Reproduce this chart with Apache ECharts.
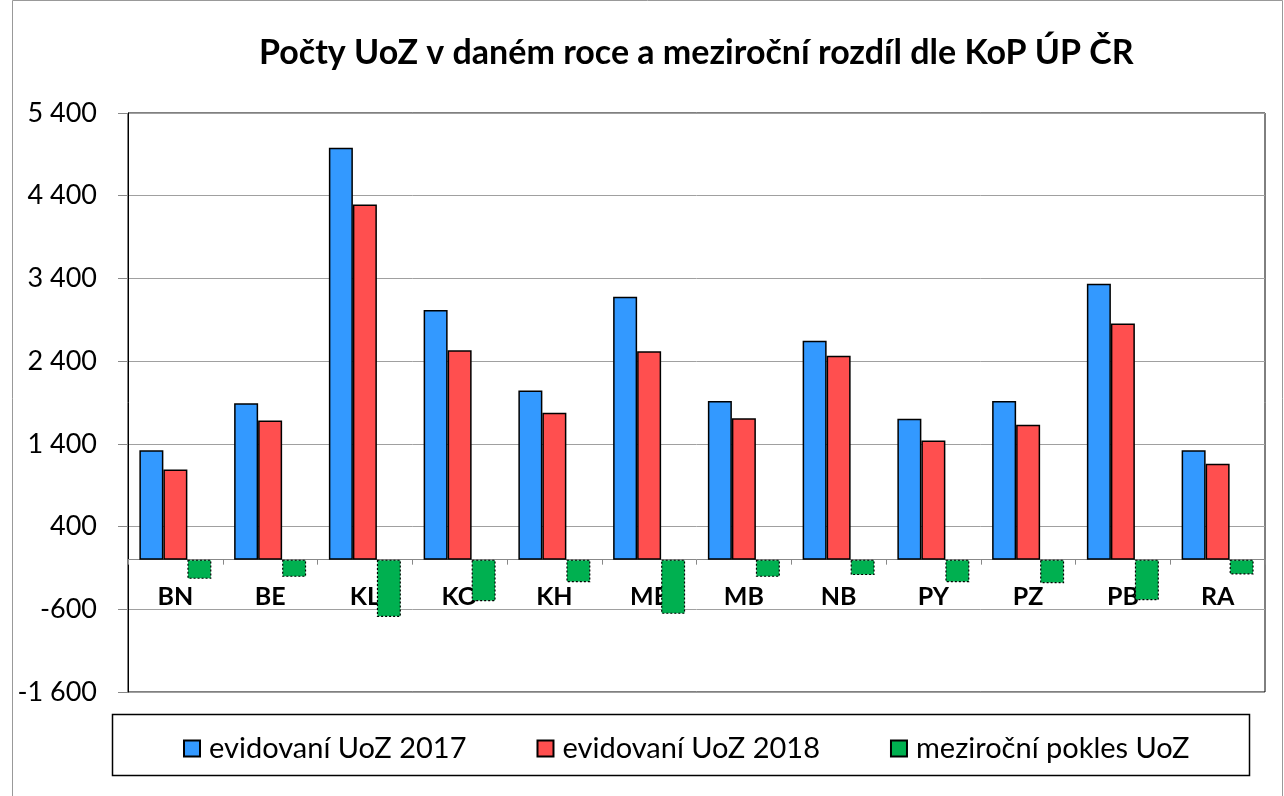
<!DOCTYPE html>
<html>
<head>
<meta charset="utf-8">
<script src="https://cdn.jsdelivr.net/npm/echarts@6/dist/echarts.min.js"></script>
<style>
  html, body { margin: 0; padding: 0; background: #fff; }
  #chart { width: 1284px; height: 796px; }
</style>
</head>
<body>
<div id="chart"></div>
<script>
const categories = ['BN', 'BE', 'KL', 'KO', 'KH', 'ME', 'MB', 'NB', 'PY', 'PZ', 'PB', 'RA']
const uoz2017 = [1324, 1892, 4979, 3017, 2046, 3178, 1917, 2646, 1703, 1917, 3335, 1324]
const uoz2018 = [1091, 1683, 4295, 2533, 1775, 2521, 1711, 2464, 1441, 1630, 2856, 1158]
const pokles = [-232, -208, -692, -502, -272, -655, -208, -187, -272, -284, -490, -179]
const seriesNames = ['evidovaní UoZ 2017', 'evidovaní UoZ 2018', 'meziroční pokles UoZ']
const yMin = -1600
const yMax = 5400
const yStep = 1000

const font = 'Lato, "Open Sans", sans-serif'

// plot area
const gridTop = 113
const gridBottom = 104
const plotHeight = 796 - gridTop - gridBottom
// lift the category axis up to the zero line
const zeroOffset = -((0 - yMin) / (yMax - yMin)) * plotHeight

function spaced(v) {
  const s = String(Math.abs(v)).replace(/\B(?=(\d{3})+(?!\d))/g, ' ')
  return (v < 0 ? '-' : '') + s
}

const chart = echarts.init(document.getElementById('chart'), null, { renderer: 'canvas' })

const option = {
  animation: false,
  backgroundColor: '#fff',
  textStyle: { fontFamily: font, color: '#000' },
  title: {
    text: 'Počty UoZ v daném roce a meziroční rozdíl dle KoP ÚP ČR',
    left: 254,
    top: 31,
    textStyle: { fontFamily: font, fontSize: 34, fontWeight: 'bold', color: '#000' },
  },
  graphic: [
    {
      type: 'rect',
      shape: { x: 12.5, y: 0.5, width: 1270, height: 800 },
      style: { fill: 'none', stroke: '#999', lineWidth: 1 },
      silent: true,
    },
    {
      type: 'rect',
      shape: { x: 112.5, y: 714.5, width: 1137, height: 61 },
      style: { fill: '#fff', stroke: '#000', lineWidth: 1.5 },
      silent: true,
      z: 0,
    },
  ],
  legend: {
    data: seriesNames,
    top: 729,
    left: 178,
    icon: 'rect',
    itemWidth: 16,
    itemHeight: 16,
    itemGap: 70,
    textStyle: { fontFamily: font, fontSize: 29, color: '#000', padding: [0, 0, 0, 4] },
    z: 10,
  },
  grid: {
    left: 128,
    right: 19,
    top: gridTop,
    bottom: gridBottom,
    show: true,
    borderColor: '#000',
    borderWidth: 1,
    containLabel: false,
  },
  xAxis: {
    type: 'category',
    data: categories,
    offset: zeroOffset,
    axisLine: { onZero: false, lineStyle: { color: '#888', width: 1 } },
    axisTick: { show: true, length: 5, lineStyle: { color: '#888' } },
    axisLabel: {
      margin: 25,
      fontFamily: font,
      fontSize: 25,
      fontWeight: 'bold',
      color: '#000',
    },
    splitLine: { show: false },
  },
  yAxis: {
    type: 'value',
    min: yMin,
    max: yMax,
    interval: yStep,
    axisLine: { show: true, lineStyle: { color: '#000' } },
    axisTick: { show: true, length: 10, lineStyle: { color: '#888' } },
    axisLabel: {
      margin: 31,
      fontFamily: font,
      fontSize: 27,
      color: '#000',
      formatter: spaced,
    },
    splitLine: { show: true, lineStyle: { color: '#a0a0a0', width: 1 } },
  },
  series: [
    {
      name: seriesNames[0],
      type: 'bar',
      data: uoz2017,
      barWidth: 24,
      barGap: '0%',
      itemStyle: { color: '#3399ff', borderColor: '#000', borderWidth: 1.5 },
    },
    {
      name: seriesNames[1],
      type: 'bar',
      data: uoz2018,
      barWidth: 24,
      barGap: '0%',
      itemStyle: { color: '#ff4f4f', borderColor: '#000', borderWidth: 1.5 },
    },
    {
      name: seriesNames[2],
      type: 'bar',
      data: pokles,
      barWidth: 24,
      barGap: '0%',
      itemStyle: { color: '#00b050', borderColor: '#000', borderWidth: 1.2, borderType: [2, 2] },
    },
  ],
}

chart.setOption(option)
</script>
</body>
</html>
